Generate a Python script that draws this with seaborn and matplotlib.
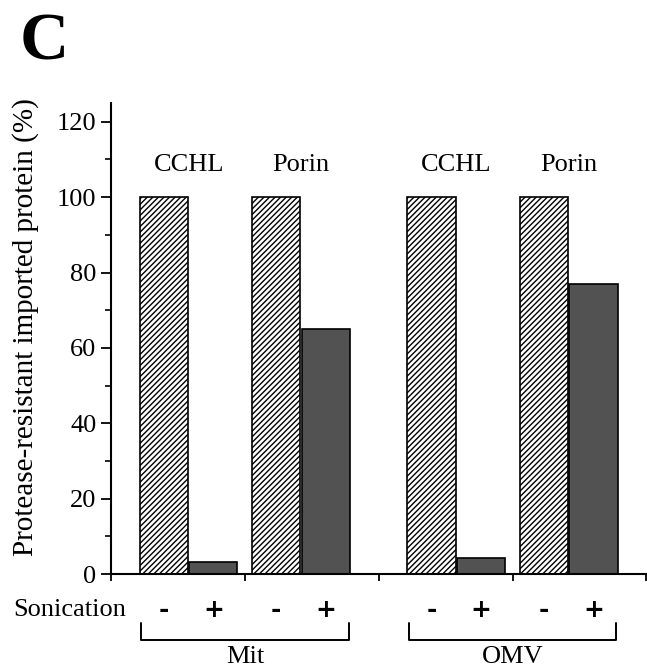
import pandas as pd
import numpy as np
import matplotlib
matplotlib.use("Agg")
import matplotlib.pyplot as plt
import seaborn as sns

# data
membranes = ["Mit", "OMV"]
proteins = ["CCHL", "Porin"]
sonication = ["-", "+"]
mit_cchl = [100, 3.3]
mit_porin = [100, 65]
omv_cchl = [100, 4.2]
omv_porin = [100, 77]
y_ticks = [0, 20, 40, 60, 80, 100, 120]


def build_df():
    ''' Put the values in a long table with a bar position
        for each membrane / protein / sonication combination.
    '''
    values = {("Mit", "CCHL"): mit_cchl, ("Mit", "Porin"): mit_porin,
              ("OMV", "CCHL"): omv_cchl, ("OMV", "Porin"): omv_porin}
    rows = []
    for m, mem in enumerate(membranes):
        for p, prot in enumerate(proteins):
            center = 2 * m + 0.58 + 0.84 * p
            for s, son in enumerate(sonication):
                rows.append({"membrane": mem, "protein": prot, "sonication": son,
                             "center": center,
                             "pos": round(center + (s - 0.5) * 0.37, 3),
                             "value": values[(mem, prot)][s]})
    return pd.DataFrame(rows)


df = build_df()

sns.set_style("ticks")
plt.rcParams["font.family"] = ["Liberation Serif", "DejaVu Serif"]
plt.rcParams["hatch.linewidth"] = 1.0
for key in ["text.color", "axes.labelcolor", "xtick.color", "ytick.color", "axes.edgecolor"]:
    plt.rcParams[key] = "black"

fig = plt.figure(figsize=(6.47, 6.72), dpi=100)
ax = fig.add_axes([0.1716, 0.1458, 0.8274, 0.701])

sns.barplot(data=df, x="pos", y="value", native_scale=True, width=0.36 / 0.37,
            color="white", edgecolor="black", linewidth=1.2, errorbar=None, ax=ax)

# style each bar: hatched for "-", dark grey for "+"
for patch in ax.patches:
    cx = patch.get_x() + patch.get_width() / 2
    row = df.iloc[(df["pos"] - cx).abs().argmin()]
    if row["sonication"] == "-":
        patch.set_facecolor("white")
        patch.set_hatch("//////")
    else:
        patch.set_facecolor("#525252")
    patch.set_edgecolor("black")

ax.set_xlim(0, 4)
ax.set_ylim(0, 125)
ax.set_xticks([0, 1, 2, 3, 4])
ax.set_xticklabels([])
ax.set_yticks(y_ticks)
ax.set_yticks(np.arange(10, 125, 20), minor=True)
ax.tick_params(axis="y", which="major", length=7, width=1.3, labelsize=19, direction="out")
ax.tick_params(axis="y", which="minor", length=4, width=1.2, direction="out")
ax.tick_params(axis="x", length=5, width=1.3, direction="out")
ax.set_xlabel("")
ax.set_ylabel("Protease-resistant imported protein (%)", fontsize=21)
ax.yaxis.set_label_coords(-0.134, 0.524)
for side in ["top", "right"]:
    ax.spines[side].set_visible(False)
for side in ["left", "bottom"]:
    ax.spines[side].set_linewidth(1.5)

# protein labels above each pair
for (mem, prot), g in df.groupby(["membrane", "protein"]):
    ax.text(g["center"].iloc[0], 108.5, prot, ha="center", va="center", fontsize=19)

# sonication signs under the bars
for _, row in df.iterrows():
    ax.text(row["pos"], -9.5, row["sonication"], ha="center", va="center",
            fontsize=18, fontweight="bold", family="DejaVu Sans", clip_on=False)
ax.text(0.11, -9.5, "Sonication", ha="right", va="center", fontsize=19, clip_on=False)

# brackets with membrane names
for mem, g in df.groupby("membrane"):
    left = g["pos"].min() - 0.17
    right = g["pos"].max() + 0.17
    ax.plot([left, left, right, right], [-13, -17.5, -17.5, -13], color="black",
            linewidth=1.4, clip_on=False)
    ax.text((left + right) / 2, -22, mem, ha="center", va="center",
            fontsize=19, clip_on=False)

fig.text(0.031, 0.912, "C", fontsize=49, fontweight="bold", ha="left", va="baseline")

fig.savefig("out.png", dpi=100)
